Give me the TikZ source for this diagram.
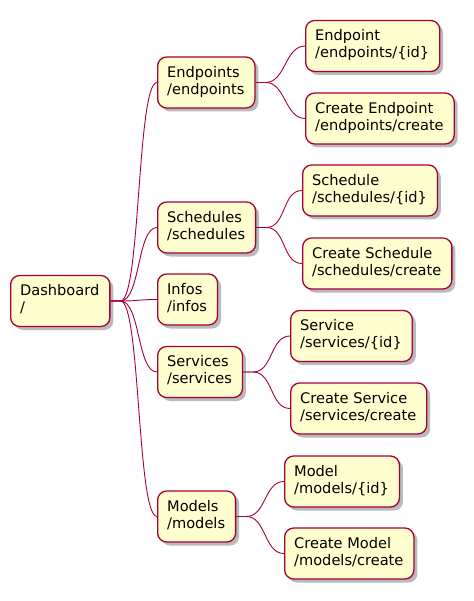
\documentclass[tikz,border=0pt]{standalone}
\usepackage{fontspec}
\setmainfont{DejaVu Sans}
\usepackage{xcolor}
\usepackage{tikz}
\usetikzlibrary{shadows}

\definecolor{mmfill}{HTML}{FEFECE}
\definecolor{mmline}{HTML}{A80036}

\newcommand{\mmtext}[1]{\begin{tabular}{@{}l@{\hspace{1pt}}}#1\end{tabular}}

\tikzset{
  mmbox/.style={draw=mmline, line width=1.3pt, fill=mmfill, rounded corners=9pt,
    anchor=west, inner xsep=9.5pt, inner ysep=0pt, minimum height=51pt,
    font=\fontsize{14.6}{17}\selectfont,
    drop shadow={shadow xshift=3.5pt, shadow yshift=-3.5pt, fill=black!45, opacity=0.6}},
  mmlink/.style={draw=mmline, line width=0.9pt}
}

\begin{document}
\begin{tikzpicture}[x=1pt, y=-1pt]
            \useasboundingbox (0,0) rectangle (473,601);

            % Root
            \node[mmbox] (dashboard) at (10,301) {\mmtext{Dashboard\\/}};

            % First level
            \node[mmbox] (endpoints) at (157,82.5) {\mmtext{Endpoints\\/endpoints}};
            \node[mmbox] (schedules) at (157,227.5) {\mmtext{Schedules\\/schedules}};
            \node[mmbox] (infos) at (157,299.5) {\mmtext{Infos\\/infos}};
            \node[mmbox] (services) at (157,372) {\mmtext{Services\\/services}};
            \node[mmbox] (models) at (157,516.5) {\mmtext{Models\\/models}};

            % Endpoint pages
            \node[mmbox] (endpoint) at (305,46) {\mmtext{Endpoint\\/endpoints/\{id\}}};
            \node[mmbox] (newendpoint) at (305,118.5) {\mmtext{Create Endpoint\\/endpoints/create}};

            % Schedule pages
            \node[mmbox] (schedule) at (302,190.5) {\mmtext{Schedule\\/schedules/\{id\}}};
            \node[mmbox] (newschedule) at (302,263.5) {\mmtext{Create Schedule\\/schedules/create}};

            % Service pages
            \node[mmbox] (service) at (290,336) {\mmtext{Service\\/services/\{id\}}};
            \node[mmbox] (newservice) at (290,408.5) {\mmtext{Create Service\\/services/create}};

            % Model pages
            \node[mmbox] (model) at (284,481.5) {\mmtext{Model\\/models/\{id\}}};
            \node[mmbox] (newmodel) at (284,553.5) {\mmtext{Create Model\\/models/create}};

            % Links
            \foreach \child in {endpoints, schedules, infos, services, models}
              \draw[mmlink] (dashboard.east) -- ++(10,0) .. controls +(20,0) and +(-20,0) .. (\child.west);
            \draw[mmlink] (endpoints.east) -- ++(10,0) .. controls +(20,0) and +(-20,0) .. (endpoint.west);
            \draw[mmlink] (endpoints.east) -- ++(10,0) .. controls +(20,0) and +(-20,0) .. (newendpoint.west);
            \draw[mmlink] (schedules.east) -- ++(10,0) .. controls +(20,0) and +(-20,0) .. (schedule.west);
            \draw[mmlink] (schedules.east) -- ++(10,0) .. controls +(20,0) and +(-20,0) .. (newschedule.west);
            \draw[mmlink] (services.east) -- ++(10,0) .. controls +(20,0) and +(-20,0) .. (service.west);
            \draw[mmlink] (services.east) -- ++(10,0) .. controls +(20,0) and +(-20,0) .. (newservice.west);
            \draw[mmlink] (models.east) -- ++(10,0) .. controls +(20,0) and +(-20,0) .. (model.west);
            \draw[mmlink] (models.east) -- ++(10,0) .. controls +(20,0) and +(-20,0) .. (newmodel.west);
        \end{tikzpicture}
\end{document}
